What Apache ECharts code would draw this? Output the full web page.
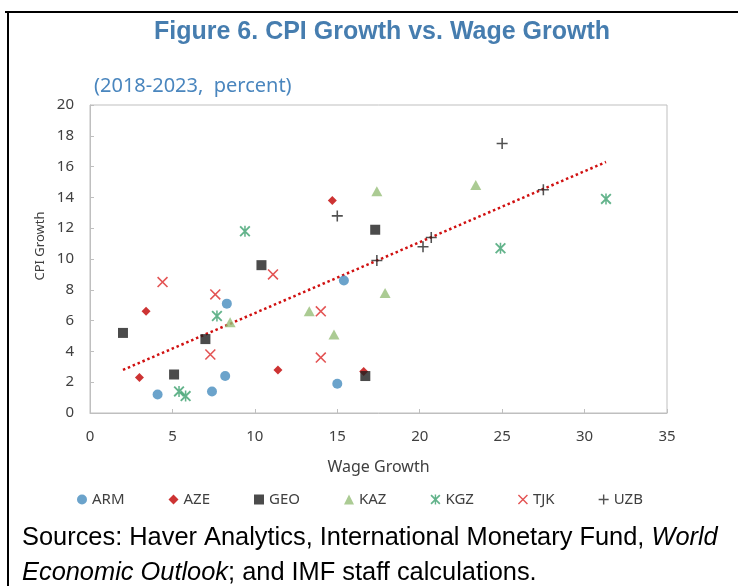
<!DOCTYPE html>
<html>
<head>
<meta charset="utf-8">
<style>
  html, body { margin: 0; padding: 0; background: #fff; }
  #chart { width: 738px; height: 586px; }
</style>
<script src="https://cdn.jsdelivr.net/npm/echarts@6/dist/echarts.min.js"></script>
</head>
<body>
<div id="chart"></div>
<script>
  // [wage growth, CPI growth]
  const armData = [[4.1, 1.2], [7.4, 1.4], [8.2, 2.4], [8.3, 7.1], [15.4, 8.6], [15.0, 1.9]];
  const azeData = [[3.4, 6.6], [3.0, 2.3], [11.4, 2.8], [14.7, 13.8], [16.6, 2.7]];
  const geoData = [[2.0, 5.2], [5.1, 2.5], [7.0, 4.8], [10.4, 9.6], [17.3, 11.9], [16.7, 2.4]];
  const kazData = [[8.5, 5.9], [17.4, 14.4], [23.4, 14.8], [13.3, 6.6], [14.8, 5.1], [17.9, 7.8]];
  const kgzData = [[9.4, 11.8], [7.7, 6.3], [5.4, 1.4], [5.8, 1.1], [31.3, 13.9], [24.9, 10.7]];
  const tjkData = [[4.4, 8.5], [7.6, 7.7], [11.1, 9.0], [7.3, 3.8], [14.0, 6.6], [14.0, 3.6]];
  const uzbData = [[15.0, 12.8], [17.4, 9.9], [20.2, 10.8], [20.7, 11.4], [25.0, 17.5], [27.5, 14.5]];
  // linear trend line end points
  const trendData = [[2.0, 2.8], [31.3, 16.3]];

  const countries = ['ARM', 'AZE', 'GEO', 'KAZ', 'KGZ', 'TJK', 'UZB'];

  const plusPath = 'path://M4.3,0H5.7V4.3H10V5.7H5.7V10H4.3V5.7H0V4.3H4.3Z';
  const xPath = 'path://M1,0L10,9L9,10L0,1ZM9,0L10,1L1,10L0,9Z';
  const starPath = 'path://M1.2,0L10,8.8L8.8,10L0,1.2ZM8.8,0L10,1.2L1.2,10L0,8.8ZM4.3,0H5.7V10H4.3Z';

  const chart = echarts.init(document.getElementById('chart'));

  const axisFont = { fontFamily: 'Noto Sans', fontSize: 15, color: '#404040' };
  const srcRich = {
    n: { fontFamily: 'Liberation Sans', fontSize: 25.4, fill: '#000' },
    i: { fontFamily: 'Liberation Sans', fontSize: 25.4, fontStyle: 'italic', fill: '#000' },
  };

  const option = {
    backgroundColor: '#fff',
    animation: false,
    title: [
      {
        text: 'Figure 6. CPI Growth vs. Wage Growth',
        left: 149,
        top: 15,
        textStyle: { fontFamily: 'Liberation Sans', fontWeight: 'bold', fontSize: 25, color: '#467DAF' },
      },
      {
        text: '(2018-2023,  percent)',
        left: 89,
        top: 71,
        textStyle: { fontFamily: 'Noto Sans', fontWeight: 'normal', fontSize: 20, color: '#4A86BE' },
      },
    ],
    legend: {
      data: countries,
      left: 72,
      top: 487,
      itemGap: 44,
      itemWidth: 10,
      itemHeight: 10,
      textStyle: { fontFamily: 'Noto Sans', fontSize: 15, color: '#404040' },
    },
    grid: {
      left: 90,
      top: 105,
      right: 71,
      bottom: 173,
      show: true,
      borderColor: '#BFBFBF',
      borderWidth: 1,
    },
    xAxis: {
      type: 'value',
      min: 0,
      max: 35,
      interval: 5,
      name: 'Wage Growth',
      nameLocation: 'middle',
      nameGap: 46,
      nameTextStyle: { fontFamily: 'Noto Sans', fontSize: 16, color: '#404040' },
      axisLine: { show: true, lineStyle: { color: '#BFBFBF' } },
      axisTick: { show: true, inside: true, length: 4, lineStyle: { color: '#BFBFBF' } },
      axisLabel: Object.assign({ margin: 16 }, axisFont),
      splitLine: { show: false },
    },
    yAxis: {
      type: 'value',
      min: 0,
      max: 20,
      interval: 2,
      axisLine: { show: true, lineStyle: { color: '#BFBFBF' } },
      axisTick: { show: true, inside: true, length: 4, lineStyle: { color: '#BFBFBF' } },
      axisLabel: Object.assign({ margin: 16 }, axisFont),
      splitLine: { show: false },
    },
    series: [
      {
        name: 'trend',
        type: 'line',
        data: trendData,
        symbol: 'none',
        silent: true,
        z: 1,
        lineStyle: { color: '#D01010', width: 2.5, type: [2.5, 2.8] },
      },
      { name: 'ARM', type: 'scatter', data: armData, symbol: 'circle', symbolSize: 10, itemStyle: { color: '#468CBE' } },
      { name: 'AZE', type: 'scatter', data: azeData, symbol: 'path://M5,0L10,5L5,10L0,5Z', symbolSize: 9, itemStyle: { color: '#C00000' } },
      { name: 'GEO', type: 'scatter', data: geoData, symbol: 'rect', symbolSize: 10, itemStyle: { color: '#1E1E1E' } },
      { name: 'KAZ', type: 'scatter', data: kazData, symbol: 'triangle', symbolSize: [11, 10], itemStyle: { color: '#96BE78' } },
      { name: 'KGZ', type: 'scatter', data: kgzData, symbol: starPath, symbolSize: 11, itemStyle: { color: '#3CA06E' } },
      { name: 'TJK', type: 'scatter', data: tjkData, symbol: xPath, symbolSize: 11, itemStyle: { color: '#DC2828' } },
      { name: 'UZB', type: 'scatter', data: uzbData, symbol: plusPath, symbolSize: 11, itemStyle: { color: '#262626' } },
    ],
    graphic: [
      { type: 'rect', shape: { x: 5, y: 11, width: 733, height: 2 }, style: { fill: '#000' }, silent: true },
      { type: 'rect', shape: { x: 7, y: 11, width: 2, height: 575 }, style: { fill: '#000' }, silent: true },
      {
        type: 'text',
        x: 40,
        y: 246,
        rotation: Math.PI / 2,
        silent: true,
        style: {
          text: 'CPI Growth',
          fontFamily: 'Noto Sans',
          fontSize: 13,
          fill: '#404040',
          align: 'center',
          verticalAlign: 'middle',
        },
      },
      {
        type: 'text',
        left: 22,
        top: 525,
        silent: true,
        style: { text: '{n|Sources: Haver Analytics, International Monetary Fund, }{i|World}', rich: srcRich },
      },
      {
        type: 'text',
        left: 22,
        top: 560,
        silent: true,
        style: { text: '{i|Economic Outlook}{n|; and IMF staff calculations.}', rich: srcRich },
      },
    ],
  };

  chart.setOption(option);
</script>
</body>
</html>
